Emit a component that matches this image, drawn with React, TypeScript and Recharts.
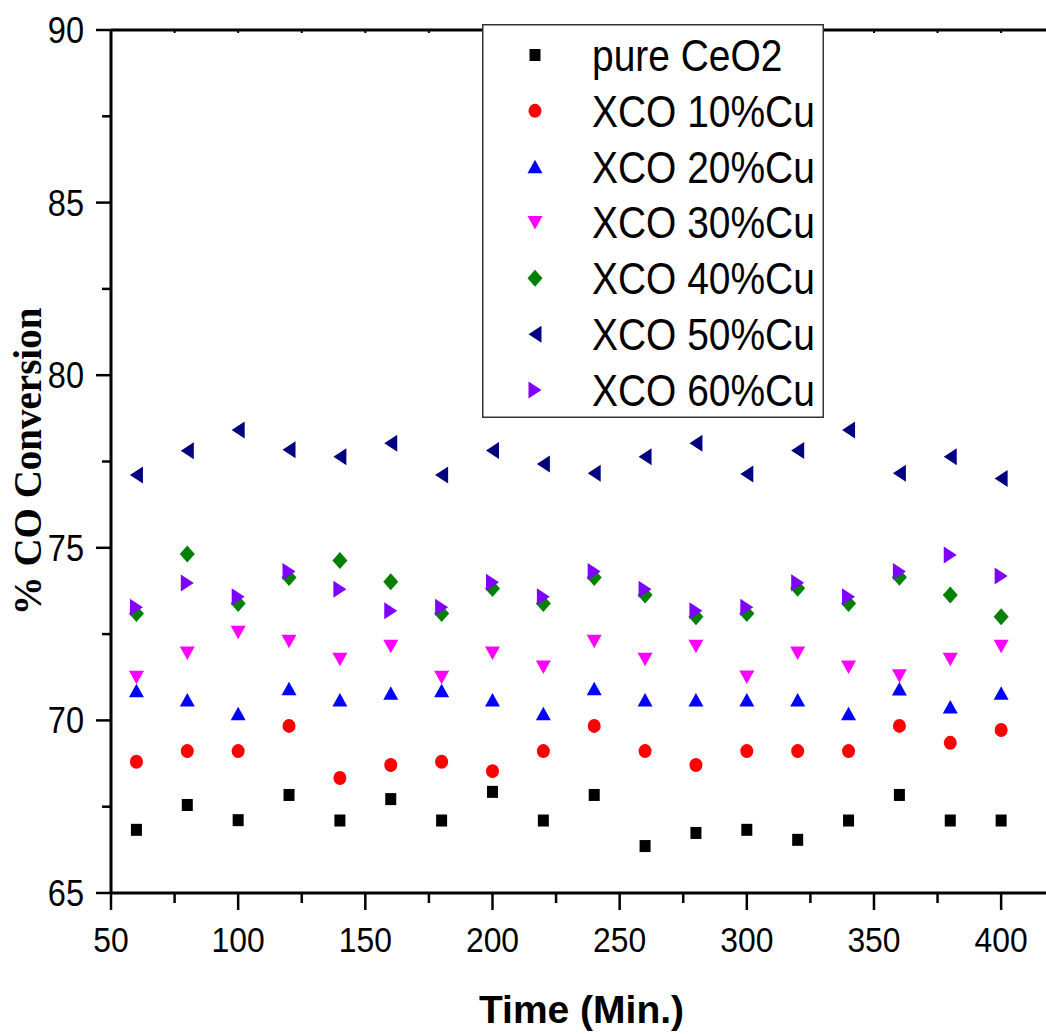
import React from 'react';
import {
    ScatterChart,
    Scatter,
    XAxis,
    YAxis,
    Legend,
} from 'recharts';

const times = [60, 80, 100, 120, 140, 160, 180, 200, 220, 240, 260, 280, 300, 320, 340, 360, 380, 400];

const pureCeO2 = [66.83, 67.55, 67.11, 67.84, 67.1, 67.72, 67.1, 67.93, 67.1, 67.84, 66.36, 66.74, 66.83, 66.54, 67.1, 67.84, 67.1, 67.1];
const cu10 = [68.8, 69.11, 69.11, 69.84, 68.33, 68.71, 68.8, 68.53, 69.11, 69.84, 69.11, 68.71, 69.11, 69.11, 69.11, 69.84, 69.35, 69.72];
const cu20 = [70.86, 70.59, 70.19, 70.92, 70.59, 70.79, 70.86, 70.59, 70.19, 70.92, 70.59, 70.59, 70.59, 70.59, 70.19, 70.91, 70.39, 70.79];
const cu30 = [71.25, 71.95, 72.55, 72.29, 71.77, 72.15, 71.25, 71.95, 71.55, 72.29, 71.77, 72.15, 71.26, 71.95, 71.55, 71.29, 71.77, 72.15];
const cu40 = [73.1, 74.82, 73.39, 74.14, 74.63, 74.02, 73.1, 73.82, 73.39, 74.14, 73.63, 73.0, 73.1, 73.83, 73.39, 74.15, 73.63, 73.0];
const cu50 = [77.11, 77.81, 78.41, 77.84, 77.64, 78.03, 77.11, 77.82, 77.43, 77.16, 77.64, 78.03, 77.14, 77.82, 78.41, 77.16, 77.64, 77.01];
const cu60 = [73.28, 73.98, 73.58, 74.31, 73.8, 73.18, 73.28, 74.0, 73.58, 74.31, 73.8, 73.18, 73.28, 73.99, 73.58, 74.31, 74.79, 74.18];

const seriesNames = ['pure CeO2', 'XCO 10%Cu', 'XCO 20%Cu', 'XCO 30%Cu', 'XCO 40%Cu', 'XCO 50%Cu', 'XCO 60%Cu'];
const seriesValues = [pureCeO2, cu10, cu20, cu30, cu40, cu50, cu60];
const seriesColors = ['#000000', '#ff0000', '#0000ff', '#ff00ff', '#008000', '#000080', '#8000ff'];
const seriesShapes = ['square', 'circle', 'up', 'down', 'diamond', 'left', 'right'];

const xTicks = [50, 75, 100, 125, 150, 175, 200, 225, 250, 275, 300, 325, 350, 375, 400];
const yTicks = [65, 67.5, 70, 72.5, 75, 77.5, 80, 82.5, 85, 87.5, 90];

const SANS = '"Liberation Sans", Arial, sans-serif';
const SERIF = '"Liberation Serif", "Times New Roman", serif';

const Marker = ({ cx, cy, kind, color }: { cx: number; cy: number; kind: string; color: string }) => {
    if (cx == null || cy == null) return null;
    switch (kind) {
        case 'square':
            return <rect x={cx - 5.5} y={cy - 6} width={11} height={12} fill={color} />;
        case 'circle':
            return <ellipse cx={cx} cy={cy} rx={6.5} ry={7} fill={color} />;
        case 'up':
            return <polygon points={`${cx},${cy - 7} ${cx + 7.5},${cy + 6.5} ${cx - 7.5},${cy + 6.5}`} fill={color} />;
        case 'down':
            return <polygon points={`${cx - 7.5},${cy - 6.5} ${cx + 7.5},${cy - 6.5} ${cx},${cy + 7}`} fill={color} />;
        case 'diamond':
            return <polygon points={`${cx},${cy - 8.5} ${cx + 7.5},${cy} ${cx},${cy + 8.5} ${cx - 7.5},${cy}`} fill={color} />;
        case 'left':
            return <polygon points={`${cx - 6.5},${cy} ${cx + 6.5},${cy - 8.5} ${cx + 6.5},${cy + 8.5}`} fill={color} />;
        case 'right':
            return <polygon points={`${cx + 6.5},${cy} ${cx - 6.5},${cy - 8.5} ${cx - 6.5},${cy + 8.5}`} fill={color} />;
        default:
            return null;
    }
};

// left axis: long ticks with labels every 5, short ones between
const YTick = (props: any) => {
    const { x, y, payload } = props;
    const v = payload.value;
    const major = v % 5 === 0;
    return (
        <g>
            <line x1={x - (major ? 15 : 9)} x2={x} y1={y} y2={y} stroke="#000" strokeWidth={2.5} />
            {major && (
                <g transform={`translate(${x - 27},${y + 13}) scale(0.88,1)`}>
                    <text x={0} y={0} textAnchor="end" fontSize={37} fontFamily={SANS} fill="#000">
                        {v}
                    </text>
                </g>
            )}
        </g>
    );
};

const XTick = (props: any) => {
    const { x, y, payload } = props;
    const v = payload.value;
    const major = v % 50 === 0;
    return (
        <g>
            <line x1={x} x2={x} y1={y} y2={y + (major ? 17 : 10)} stroke="#000" strokeWidth={2.5} />
            {major && (
                <g transform={`translate(${x},${y + 58.5}) scale(0.91,1)`}>
                    <text x={0} y={0} textAnchor="middle" fontSize={35} fontFamily={SANS} fill="#000">
                        {v}
                    </text>
                </g>
            )}
        </g>
    );
};

const TopTick = (props: any) => {
    const { x, y } = props;
    return <line x1={x} x2={x} y1={y} y2={y + 3} stroke="#000" strokeWidth={2} />;
};

const LegendBox = () => (
    <svg width={342} height={394} style={{ display: 'block' }}>
        <rect x={0.75} y={0.75} width={340.5} height={392.5} fill="#fff" stroke="#333" strokeWidth={1.5} />
        {seriesNames.map((name, i) => {
            const cy = 31 + i * 55.83;
            return (
                <g key={name}>
                    <Marker cx={53} cy={cy} kind={seriesShapes[i]} color={seriesColors[i]} />
                    <g transform={`translate(110,${cy + 16}) scale(0.885,1)`}>
                        <text x={0} y={0} fontSize={44} fontFamily={SANS} fill="#000">
                            {name}
                        </text>
                    </g>
                </g>
            );
        })}
    </svg>
);

const YTitle = (props: any) => {
    const { viewBox } = props;
    const x = viewBox.x + 41;
    const y = viewBox.y + viewBox.height / 2;
    return (
        <text
            x={x}
            y={y}
            transform={`rotate(-90, ${x}, ${y})`}
            textAnchor="middle"
            fontSize={39}
            fontWeight="bold"
            fontFamily={SERIF}
            fill="#000"
        >
            % CO Conversion
        </text>
    );
};

const XTitle = (props: any) => {
    const { viewBox } = props;
    return (
        <text
            x={viewBox.x + viewBox.width / 2}
            y={viewBox.y + 129.5}
            textAnchor="middle"
            fontSize={39}
            fontWeight="bold"
            fontFamily={SANS}
            fill="#000"
        >
            Time (Min.)
        </text>
    );
};

export default function App() {
    return (
        <div
            style={{
                position: 'absolute',
                left: 0,
                top: 0,
                width: 1046,
                height: 1034,
                overflow: 'hidden',
                background: '#fff',
            }}
        >
            <ScatterChart width={1052} height={1034} margin={{ top: 0, right: 0, bottom: 0, left: 0 }}>
                <XAxis
                    xAxisId="top"
                    orientation="top"
                    type="number"
                    dataKey="x"
                    domain={[50, 420]}
                    ticks={xTicks}
                    interval={0}
                    height={30}
                    tickSize={0}
                    tickMargin={0}
                    tickLine={false}
                    tick={<TopTick />}
                    axisLine={{ stroke: '#000', strokeWidth: 3 }}
                    allowDataOverflow
                />
                <XAxis
                    type="number"
                    dataKey="x"
                    domain={[50, 420]}
                    ticks={xTicks}
                    interval={0}
                    height={141}
                    tickSize={0}
                    tickMargin={0}
                    tickLine={false}
                    tick={<XTick />}
                    axisLine={{ stroke: '#000', strokeWidth: 3 }}
                    allowDataOverflow
                    label={<XTitle />}
                />
                <YAxis
                    type="number"
                    dataKey="y"
                    domain={[65, 90]}
                    ticks={yTicks}
                    interval={0}
                    width={111}
                    tickSize={0}
                    tickMargin={0}
                    tickLine={false}
                    tick={<YTick />}
                    axisLine={{ stroke: '#000', strokeWidth: 3 }}
                    allowDataOverflow
                    label={<YTitle />}
                />
                <Legend
                    align="center"
                    verticalAlign="middle"
                    content={<LegendBox />}
                    wrapperStyle={{ left: 482, top: 24, width: 342, height: 394 }}
                />
                {seriesNames.map((name, i) => (
                    <Scatter
                        key={name}
                        name={name}
                        data={times.map((t, j) => ({ x: t, y: seriesValues[i][j] }))}
                        fill={seriesColors[i]}
                        shape={(p: any) => (
                            <Marker cx={p.cx} cy={p.cy} kind={seriesShapes[i]} color={seriesColors[i]} />
                        )}
                        isAnimationActive={false}
                    />
                ))}
            </ScatterChart>
        </div>
    );
}
